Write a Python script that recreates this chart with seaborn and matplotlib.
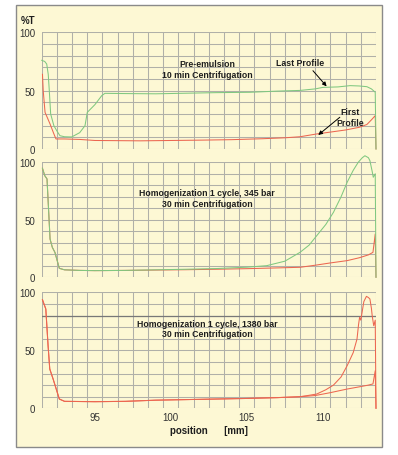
import numpy as np
import matplotlib
matplotlib.use('Agg')
import matplotlib.pyplot as plt
import seaborn as sns
from matplotlib.patches import Rectangle
from matplotlib.ticker import FixedLocator, MultipleLocator

# values (position in mm, %T)
pre_last_x = [91.5, 91.7, 91.83, 91.93, 92.0, 92.09, 92.3, 92.49, 92.7, 93.0, 93.47, 94.0,
              94.35, 94.5, 95.0, 95.45, 95.66, 97.0, 99.0, 101.0, 103.0, 105.2, 107.0,
              108.5, 109.5, 110.0, 110.5, 111.0, 111.8, 112.4, 112.9, 113.2, 113.45, 113.5]
pre_last_y = [76, 75, 72.8, 64, 50, 30, 20, 15.7, 11.4, 10.5, 10.3, 14,
              20, 31.4, 38, 45.7, 47.7, 47.5, 47.3, 47.8, 48.3, 48.6, 49.6,
              50.2, 51.5, 52.8, 53.0, 53.2, 54.3, 54.0, 53.4, 51.5, 48.6, 0]

pre_first_x = [91.55, 91.6, 91.72, 91.9, 92.05, 92.3, 92.44, 93.0, 94.0, 95.0, 96.0, 98.0,
               100.0, 102.0, 104.0, 106.0, 107.5, 108.5, 109.6, 110.5, 111.5, 112.4,
               112.9, 113.2, 113.45, 113.5]
pre_first_y = [64, 50, 31.4, 26, 21.4, 13, 8.6, 8.6, 8.2, 7.3, 7.2, 7.0,
               7.3, 7.6, 8.0, 8.8, 9.6, 10.5, 12.9, 14.5, 16.3, 18.6,
               21, 25, 28.6, 0]

h345_first_x = [91.55, 91.7, 91.85, 91.95, 92.05, 92.2, 92.37, 92.66, 93.0, 94.0, 95.0, 97.0,
                99.0, 101.0, 103.0, 105.0, 106.5, 108.5, 109.5, 110.5, 111.6, 112.4,
                113.0, 113.3, 113.45, 113.5]
h345_first_y = [94.8, 88.4, 85.5, 59.4, 33.3, 26, 21.7, 7.8, 6.5, 6.0, 5.8, 6.0,
                6.3, 6.6, 7.0, 7.5, 8.0, 8.7, 10.5, 12.5, 14.5, 17.0,
                19.5, 21.7, 37.7, 0]

h345_last_x = [91.55, 91.7, 91.85, 91.95, 92.05, 92.2, 92.37, 92.66, 93.0, 94.0, 95.0, 97.0,
               99.0, 101.0, 103.0, 105.0, 106.3, 107.5, 108.5, 109.1, 109.6, 110.2, 110.7,
               111.2, 111.6, 112.0, 112.33, 112.6, 112.77, 113.0, 113.1, 113.25, 113.32,
               113.45, 113.5]
h345_last_y = [94.8, 88.4, 85.5, 59.4, 33.3, 26, 21.7, 7.8, 6.5, 6.0, 5.8, 6.0,
               6.5, 7.0, 7.6, 8.8, 10.1, 14, 21.7, 28, 36.2, 46, 56.5,
               70, 82.6, 93, 100, 104, 105.7, 104, 101.4, 92, 87,
               90, 0]

h1380_first_x = [91.55, 91.77, 91.92, 92.03, 92.25, 92.66, 93.0, 95.0, 97.0, 99.0, 101.0,
                 103.0, 105.0, 107.0, 108.5, 109.5, 110.5, 111.6, 112.4, 113.0, 113.3,
                 113.45, 113.5]
h1380_first_y = [93.6, 85.6, 54, 33.9, 25.3, 8, 6, 5.7, 6, 7, 7.5,
                 8, 8.5, 9.2, 10, 11, 13.5, 16.6, 18.5, 20, 21,
                 32.4, 0]

h1380_last_x = [91.55, 91.77, 91.92, 92.03, 92.25, 92.66, 93.0, 95.0, 97.0, 99.0, 101.0,
                103.0, 105.0, 107.0, 108.5, 109.0, 109.6, 110.2, 110.7, 111.2, 111.6,
                112.0, 112.25, 112.35, 112.42, 112.5, 112.6, 112.7, 112.87, 113.0, 113.1,
                113.2, 113.25, 113.35, 113.45, 113.5]
h1380_last_y = [93.6, 85.6, 54, 33.9, 25.3, 8, 6, 5.7, 6, 7, 7.5,
                8, 8.5, 9.2, 10, 11, 12.3, 16, 20, 27, 36.7,
                48, 59.7, 72, 78.4, 76, 84, 92, 96.5, 95.5, 94.2,
                86, 79.8, 71.2, 76, 0]

x_ticks = [95, 100, 105, 110]
y_ticks = [0, 50, 100]
titles = ['Pre-emulsion\n10 min Centrifugation',
          'Homogenization 1 cycle, 345 bar\n30 min Centrifugation',
          'Homogenization 1 cycle, 1380 bar\n30 min Centrifugation']

GREEN = '#80c880'
RED = '#ec6650'
PAPER = '#fdf8d4'
GRID = '#b0b0a8'

plt.rcParams['font.family'] = ['Liberation Sans', 'DejaVu Sans']

W, H = 398, 456
fig = plt.figure(figsize=(W / 100, H / 100), dpi=100)
fig.add_artist(Rectangle((16 / W, 1 - 448 / H), 366 / W, 442 / H, transform=fig.transFigure,
                         facecolor=PAPER, edgecolor='#8a8a8a', lw=1, zorder=0))

# panel boxes in pixels: (top, bottom)
boxes = [(33.3, 150.0), (163.3, 278.3), (293.3, 409.3)]
axes = []
for top, bot in boxes:
    ax = fig.add_axes([41.7 / W, 1 - bot / H, (376 - 41.7) / W, (bot - top) / H])
    axes.append(ax)


def style_panel(ax, show_x):
    ax.set_xlim(91.5, 113.5)
    ax.set_ylim(0, 100)
    ax.set_facecolor('none')
    for s in ax.spines.values():
        s.set_visible(False)
    ax.set_xticks(x_ticks)
    ax.set_yticks(y_ticks)
    ax.xaxis.set_minor_locator(FixedLocator(np.arange(91.5, 113.6, 1.0)))
    ax.yaxis.set_minor_locator(MultipleLocator(10))
    ax.grid(axis='y', which='both', color=GRID, lw=0.75)
    ax.grid(axis='x', which='minor', color=GRID, lw=0.75)
    ax.tick_params(which='both', length=0, labelsize=7, labelcolor='#333333')
    ax.tick_params(axis='y', pad=4.5)
    ax.tick_params(axis='x', pad=3.0, labelbottom=show_x)
    ax.set_xlabel('')
    ax.set_ylabel('')


curves = [
    [(pre_first_x, pre_first_y, RED), (pre_last_x, pre_last_y, GREEN)],
    [(h345_first_x, h345_first_y, RED), (h345_last_x, h345_last_y, GREEN)],
    [(h1380_first_x, h1380_first_y, RED), (h1380_last_x, h1380_last_y, RED)],
]

for i, ax in enumerate(axes):
    for xs, ys, col in curves[i]:
        sns.lineplot(x=xs, y=ys, ax=ax, color=col, lw=0.75, sort=False,
                     estimator=None, legend=False, clip_on=False)
    style_panel(ax, i == 2)
    ax.text(102.4, 68.8, titles[i], ha='center', va='center', fontsize=6.3,
            fontweight='bold', linespacing=1.25, color='#1e1e1e')

axes[2].axhline(80, color='#787878', lw=0.9, zorder=1.6)

# arrows in the first panel
ax = axes[0]
ax.text(108.5, 73.7, 'Last Profile', ha='center', va='center', fontsize=6.3,
        fontweight='bold', color='#1e1e1e')
ax.annotate('', xy=(110.25, 53.7), xytext=(109.35, 67.1),
            arrowprops=dict(arrowstyle='-|>', color='black', lw=0.7,
                            mutation_scale=6, shrinkA=0, shrinkB=0))
ax.text(111.8, 27.4, 'First\nProfile', ha='center', va='center', fontsize=6.3,
        fontweight='bold', linespacing=1.25, color='#1e1e1e')
ax.annotate('', xy=(109.7, 12.0), xytext=(111.12, 27.2),
            arrowprops=dict(arrowstyle='-|>', color='black', lw=0.7,
                            mutation_scale=6, shrinkA=0, shrinkB=0))

fig.text(21 / W, 1 - 21 / H, '%T', ha='left', va='center', fontsize=7,
         fontweight='bold', color='#1e1e1e')
axes[2].set_xlabel('position      [mm]', fontsize=7, fontweight='bold',
                   color='#1e1e1e', labelpad=2)

fig.savefig('out.png', dpi=100, facecolor='white')
